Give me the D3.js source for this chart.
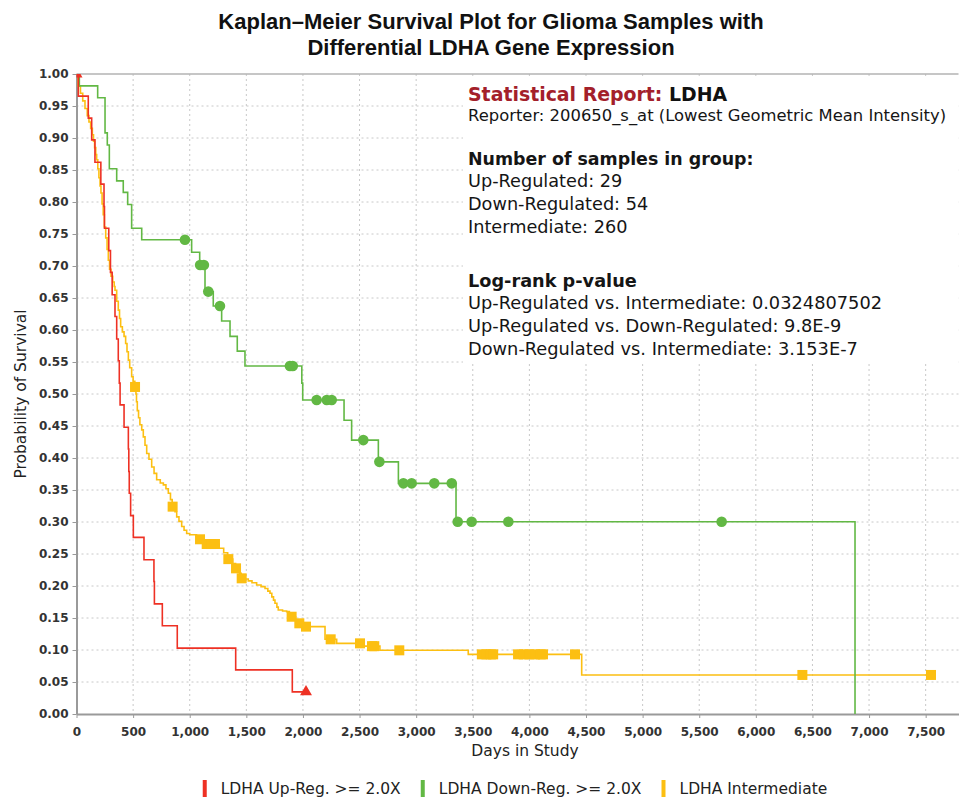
<!DOCTYPE html>
<html>
<head>
<meta charset="utf-8">
<script src="https://cdn.jsdelivr.net/npm/d3@7"></script>
<style>
  body { margin: 0; background: #fff; }
  svg { display: block; font-family: "DejaVu Sans", Verdana, sans-serif; }
</style>
</head>
<body>
<svg id="chart" width="964" height="799"></svg>
<script>
var titleLines = ['Kaplan\u2013Meier Survival Plot for Glioma Samples with', 'Differential LDHA Gene Expression'];
var xLabel = 'Days in Study',
    yLabel = 'Probability of Survival';

var xTicks = [0, 500, 1000, 1500, 2000, 2500, 3000, 3500, 4000, 4500, 5000, 5500, 6000, 6500, 7000, 7500];
var yTicks = [0, 0.05, 0.10, 0.15, 0.20, 0.25, 0.30, 0.35, 0.40, 0.45, 0.50, 0.55, 0.60, 0.65, 0.70, 0.75, 0.80, 0.85, 0.90, 0.95, 1.00];

// Up-regulated (red)
var upDays = [0, 16, 104, 134, 163, 215, 243, 247, 285, 300, 315, 340, 355, 369, 378, 385, 420, 458, 462, 466, 478, 502, 596, 684, 688, 758, 890, 1406, 1906];
var upSurv = [1, 0.9655, 0.931, 0.897, 0.862, 0.828, 0.793, 0.759, 0.724, 0.690, 0.655, 0.621, 0.586, 0.552, 0.517, 0.483, 0.448, 0.414, 0.379, 0.345, 0.310, 0.276, 0.241, 0.207, 0.172, 0.138, 0.103, 0.069, 0.0345];
var upCensor = [0, 2027];

// Down-regulated (green)
var downDays = [0, 25, 187, 252, 272, 290, 355, 413, 452, 487, 576, 1017, 1088, 1135, 1208, 1282, 1356, 1420, 1488, 1990, 1998, 2363, 2430, 2666, 2843, 3352, 6876];
var downSurv = [1, 0.9815, 0.963, 0.908, 0.889, 0.852, 0.833, 0.815, 0.796, 0.759, 0.741, 0.7214, 0.7016, 0.660, 0.6375, 0.614, 0.590, 0.567, 0.5437, 0.517, 0.4906, 0.459, 0.428, 0.394, 0.3604, 0.3005, 0];
var downCensor = [958, 1092, 1125, 1164, 1267, 1885, 1910, 2121, 2210, 2254, 2533, 2675, 2887, 2960, 3160, 3314, 3367, 3490, 3814, 5698];

// Intermediate (yellow)
var intDays = [0, 15, 35, 55, 75, 95, 110, 125, 140, 150, 160, 170, 178, 188, 198, 208, 216, 226, 236, 246, 258, 270, 281, 292, 305, 320, 333, 340, 355, 369, 380, 390, 405, 420, 434, 446, 458, 470, 487, 500, 515, 525, 530, 537, 548, 560, 576, 590, 605, 620, 640, 664, 685, 708, 740, 767, 790, 811, 830, 845, 870, 885, 905, 929, 950, 973, 1000, 1060, 1085, 1120, 1260, 1300, 1335, 1380, 1405, 1440, 1455, 1490, 1517, 1550, 1591, 1630, 1665, 1690, 1709, 1725, 1740, 1753, 1770, 1782, 1820, 1856, 1880, 1895, 1935, 1960, 1995, 2020, 2195, 2298, 2540, 2680, 3460, 4462];
var intSurv = [1, 0.981, 0.970, 0.958, 0.946, 0.935, 0.925, 0.915, 0.905, 0.895, 0.885, 0.874, 0.866, 0.852, 0.838, 0.825, 0.814, 0.797, 0.780, 0.761, 0.744, 0.726, 0.709, 0.695, 0.684, 0.675, 0.668, 0.662, 0.645, 0.631, 0.618, 0.605, 0.597, 0.590, 0.579, 0.566, 0.553, 0.541, 0.527, 0.520, 0.511, 0.500, 0.488, 0.474, 0.463, 0.452, 0.444, 0.433, 0.420, 0.407, 0.398, 0.386, 0.376, 0.366, 0.361, 0.358, 0.352, 0.345, 0.335, 0.324, 0.316, 0.308, 0.301, 0.293, 0.287, 0.282, 0.280, 0.276, 0.273, 0.2656, 0.259, 0.252, 0.242, 0.235, 0.2276, 0.220, 0.212, 0.211, 0.208, 0.205, 0.2016, 0.199, 0.196, 0.192, 0.1886, 0.183, 0.178, 0.173, 0.167, 0.1625, 0.161, 0.160, 0.155, 0.152, 0.147, 0.1417, 0.139, 0.1365, 0.1167, 0.1104, 0.106, 0.0995, 0.0932, 0.061];
var intCensor = [517, 849, 1091, 1150, 1190, 1223, 1341, 1409, 1459, 1900, 1968, 2027, 2245, 2504, 2610, 2630, 2851, 3580, 3620, 3660, 3680, 3900, 3950, 4000, 4050, 4100, 4120, 4403, 6411, 7547];

var legendLabels = ['LDHA Up-Reg. >= 2.0X', 'LDHA Down-Reg. >= 2.0X', 'LDHA Intermediate'];
var colors = ['#ee3124', '#62b844', '#fcbf12'];

var reportHead = ['Statistical Report:', 'LDHA'];
var reporter = 'Reporter: 200650_s_at (Lowest Geometric Mean Intensity)';
var groupHead = 'Number of samples in group:';
var groupNames = ['Up-Regulated', 'Down-Regulated', 'Intermediate'];
var groupCounts = [29, 54, 260];
var pHead = 'Log-rank p-value';
var pNames = ['Up-Regulated vs. Intermediate', 'Up-Regulated vs. Down-Regulated', 'Down-Regulated vs. Intermediate'];
var pValues = ['0.0324807502', '9.8E-9', '3.153E-7'];

var svg = d3.select('#chart');
var font = '"DejaVu Sans", Verdana, sans-serif';
var pLeft = 76.5, pRight = 958.5, pTop = 74, pBottom = 714;

var x = d3.scaleLinear().domain([0, 7790]).range([pLeft, pRight]);
var y = d3.scaleLinear().domain([0, 1]).range([pBottom, pTop]);

// title
svg.append('g').selectAll('text').data(titleLines).join('text')
    .attr('x', 491)
    .attr('y', function(d, i) { return 29 + i * 26; })
    .attr('text-anchor', 'middle')
    .attr('font-family', '"Liberation Sans", Arial, sans-serif')
    .attr('font-weight', 'bold')
    .attr('font-size', 22)
    .attr('fill', '#111')
    .text(function(d) { return d; });

// grid
var grid = svg.append('g').attr('stroke', '#c8c8c8').attr('stroke-dasharray', '2,3');
grid.selectAll('.gv').data(xTicks.slice(1)).join('line')
    .attr('x1', function(d) { return x(d); })
    .attr('x2', function(d) { return x(d); })
    .attr('y1', pTop).attr('y2', pBottom);
grid.selectAll('.gh').data(yTicks.slice(1, -1)).join('line')
    .attr('x1', pLeft).attr('x2', pRight)
    .attr('y1', function(d) { return y(d); })
    .attr('y2', function(d) { return y(d); });

// white box behind the report text
svg.append('rect')
    .attr('x', 463).attr('y', 78)
    .attr('width', pRight - 463).attr('height', 285)
    .attr('fill', '#fff');

svg.append('line')
    .attr('x1', pLeft).attr('x2', pRight)
    .attr('y1', y(1)).attr('y2', y(1))
    .attr('stroke', '#b3b3b3').attr('stroke-width', 1.5);

// axes
var xAxis = svg.append('g')
    .attr('transform', 'translate(0,' + pBottom + ')')
    .call(d3.axisBottom(x).tickValues(xTicks).tickFormat(d3.format(',')).tickSize(4).tickSizeOuter(0).tickPadding(9));
var yAxis = svg.append('g')
    .attr('transform', 'translate(' + pLeft + ',0)')
    .call(d3.axisLeft(y).tickValues(yTicks).tickFormat(d3.format('.2f')).tickSize(4).tickSizeOuter(0).tickPadding(4));

[xAxis, yAxis].forEach(function(g) {
  g.attr('font-family', font).attr('font-size', 12).attr('font-weight', 'bold');
  g.select('.domain').attr('stroke', '#9a9a9a').attr('stroke-width', 2);
  g.selectAll('.tick line').attr('stroke', '#9a9a9a');
  g.selectAll('.tick text').attr('fill', '#333');
});

svg.append('text')
    .attr('x', 525).attr('y', 756)
    .attr('text-anchor', 'middle')
    .attr('font-family', font).attr('font-size', 15.5).attr('fill', '#222')
    .text(xLabel);
svg.append('text')
    .attr('transform', 'translate(26,394) rotate(-90)')
    .attr('text-anchor', 'middle')
    .attr('font-family', font).attr('font-size', 15.5).attr('fill', '#222')
    .text(yLabel);

// series
svg.append('clipPath').attr('id', 'plot-clip')
  .append('rect')
    .attr('x', pLeft).attr('y', pTop)
    .attr('width', pRight - pLeft).attr('height', pBottom - pTop);

var plot = svg.append('g').attr('clip-path', 'url(#plot-clip)');

var line = d3.line()
    .x(function(d) { return x(d[0]); })
    .y(function(d) { return y(d[1]); })
    .curve(d3.curveStepAfter);

function survAt(days, surv, t) {
  return surv[d3.bisectRight(days, t) - 1];
}

function points(days, surv, end) {
  var p = days.map(function(d, i) { return [d, surv[i]]; });
  if (end > days[days.length - 1]) p.push([end, surv[surv.length - 1]]);
  return p;
}

// intermediate
plot.append('path')
    .attr('d', line(points(intDays, intSurv, 7547)))
    .attr('fill', 'none').attr('stroke', colors[2]).attr('stroke-width', 1.6);
plot.append('g').selectAll('rect').data(intCensor).join('rect')
    .attr('x', function(d) { return x(d) - 5; })
    .attr('y', function(d) { return y(survAt(intDays, intSurv, d)) - 5; })
    .attr('width', 10).attr('height', 10)
    .attr('fill', colors[2]);

// down-regulated
plot.append('path')
    .attr('d', line(points(downDays, downSurv, 6876)))
    .attr('fill', 'none').attr('stroke', colors[1]).attr('stroke-width', 1.6);
plot.append('g').selectAll('circle').data(downCensor).join('circle')
    .attr('cx', function(d) { return x(d); })
    .attr('cy', function(d) { return y(survAt(downDays, downSurv, d)); })
    .attr('r', 5.3)
    .attr('fill', colors[1]);

// up-regulated
plot.append('path')
    .attr('d', line(points(upDays, upSurv, 2027)))
    .attr('fill', 'none').attr('stroke', colors[0]).attr('stroke-width', 1.6);
plot.append('g').selectAll('path').data(upCensor).join('path')
    .attr('transform', function(d) {
      return 'translate(' + x(d) + ',' + y(survAt(upDays, upSurv, d)) + ')';
    })
    .attr('d', d3.symbol(d3.symbolTriangle, 62))
    .attr('fill', colors[0]);

// report text
var rep = svg.append('g').attr('font-family', font).attr('fill', '#151515');
var rx = 468;
var head = rep.append('text').attr('x', rx).attr('y', 101)
    .attr('font-weight', 'bold').attr('font-size', 18.9);
head.append('tspan').attr('fill', '#a3202a').text(reportHead[0] + ' ');
head.append('tspan').attr('fill', '#111').text(reportHead[1]);

rep.append('text').attr('x', rx).attr('y', 121).attr('font-size', 16.4).text(reporter);

rep.append('text').attr('x', rx).attr('y', 165)
    .attr('font-weight', 'bold').attr('font-size', 17.4).text(groupHead);
rep.selectAll('.grp').data(groupNames).join('text')
    .attr('x', rx)
    .attr('y', function(d, i) { return 187 + i * 23; })
    .attr('font-size', 17.7)
    .text(function(d, i) { return d + ': ' + groupCounts[i]; });

rep.append('text').attr('x', rx).attr('y', 287)
    .attr('font-weight', 'bold').attr('font-size', 17.7).text(pHead);
rep.selectAll('.pv').data(pNames).join('text')
    .attr('x', rx)
    .attr('y', function(d, i) { return 309 + i * 23; })
    .attr('font-size', 17.8)
    .text(function(d, i) { return d + ': ' + pValues[i]; });

// legend
var legend = svg.append('g').attr('font-family', font).attr('font-size', 15.5);
var items = legend.selectAll('g').data(legendLabels).join('g');
items.append('rect')
    .attr('y', 780).attr('width', 4).attr('height', 17)
    .attr('fill', function(d, i) { return colors[i]; });
items.append('text')
    .attr('x', 18).attr('y', 794)
    .attr('fill', '#222')
    .text(function(d) { return d; });

var lx = 0, widths = [];
items.each(function() {
  var w = 18 + d3.select(this).select('text').node().getComputedTextLength();
  widths.push(w);
});
var total = d3.sum(widths) + 20 * (widths.length - 1);
lx = 515 - total / 2;
items.attr('transform', function(d, i) {
  var t = 'translate(' + lx + ',0)';
  lx += widths[i] + 20;
  return t;
});
</script>
</body>
</html>
